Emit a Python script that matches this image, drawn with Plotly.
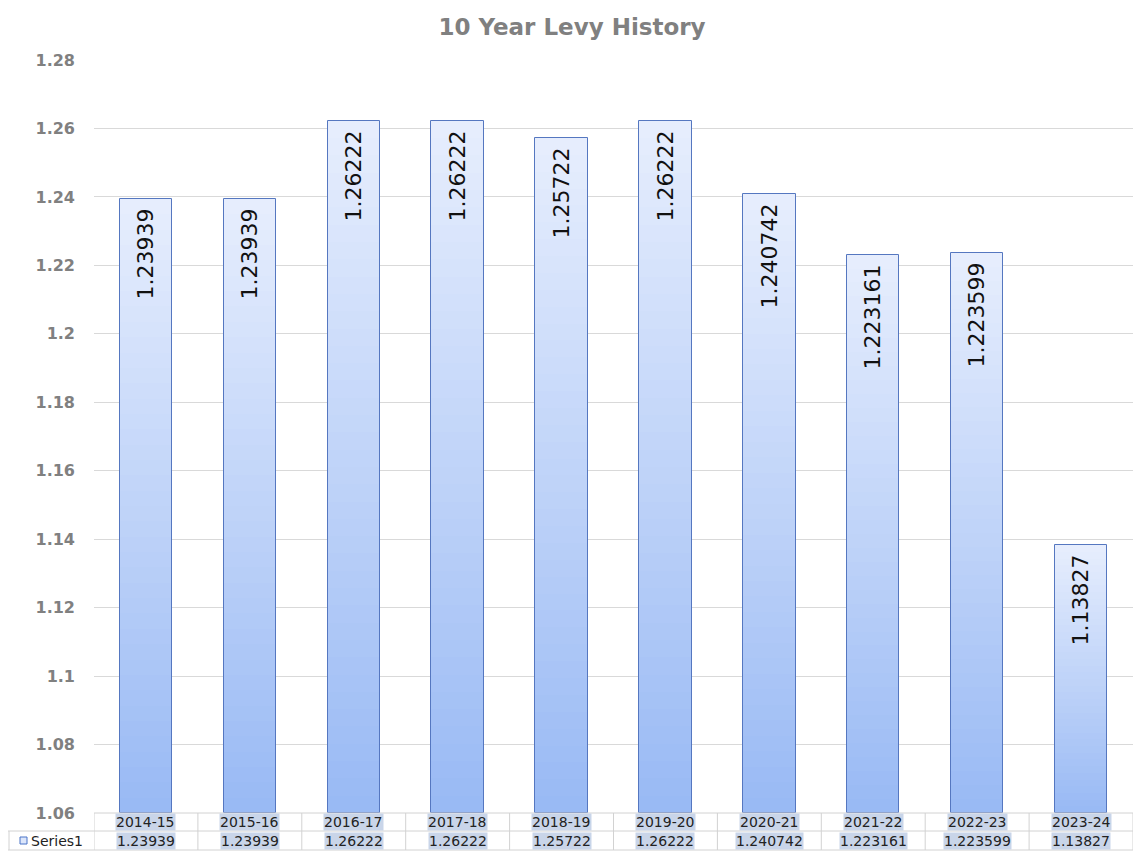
import plotly.graph_objects as go

# ---- data ----
categories = ["2014-15", "2015-16", "2016-17", "2017-18", "2018-19",
              "2019-20", "2020-21", "2021-22", "2022-23", "2023-24"]
levy = [1.23939, 1.23939, 1.26222, 1.26222, 1.25722,
        1.26222, 1.240742, 1.223161, 1.223599, 1.13827]
series_name = "Series1"
title_text = "10 Year Levy History"
y_tick_vals = [1.06, 1.08, 1.10, 1.12, 1.14, 1.16, 1.18, 1.20, 1.22, 1.24, 1.26, 1.28]
y_tick_text = ["1.06", "1.08", "1.1", "1.12", "1.14", "1.16", "1.18", "1.2",
               "1.22", "1.24", "1.26", "1.28"]
y_min, y_max = 1.06, 1.28

# ---- geometry (pixels, page coords minus the 8px body margin) ----
OFF = 8
W, H = 1141 - OFF, 858 - OFF
L, R, T, B = 94 - OFF, 1133 - OFF, 60 - OFF, 813 - OFF
ROW1_BOT, ROW2_BOT = 831 - OFF, 850 - OFF
SER_LEFT = 0


def pyp(p):
    return (B - p) / (B - T)


def pxp(p):
    return (p - L) / (R - L)


FONT = "DejaVu Sans"
BAR_W = 0.505
top_rgb = (231, 238, 253)
bot_rgb = (152, 185, 244)
N = 40

fig = go.Figure()

# gradient fill: successive shorter bars drawn over taller ones
heights = [v - y_min for v in levy]
for k in range(N):
    frac = (N - k) / N
    t = (k + 0.5) / N  # 0 top -> 1 bottom
    c = tuple(int(round(top_rgb[i] + (bot_rgb[i] - top_rgb[i]) * t)) for i in range(3))
    fig.add_trace(go.Bar(
        x=categories, y=[h * frac for h in heights], base=[y_min] * len(levy),
        width=BAR_W, marker=dict(color="rgb(%d,%d,%d)" % c, line=dict(width=0)),
        hoverinfo="skip", showlegend=False,
    ))

# outline + labels
fig.add_trace(go.Bar(
    x=categories, y=heights, base=[y_min] * len(levy), width=BAR_W,
    marker=dict(color="rgba(0,0,0,0)", line=dict(color="#5577c0", width=1)),
    text=[str(v) + "\u00a0" for v in levy],
    textposition="inside", insidetextanchor="end", textangle=-90,
    constraintext="none",
    insidetextfont=dict(family=FONT, size=22, color="#111111"),
    hoverinfo="skip", showlegend=False,
))

shapes = []
line_c = "#d2d2d2"
# horizontal table lines
shapes.append(dict(type="line", xref="paper", yref="paper", x0=0, x1=1,
                   y0=pyp(B), y1=pyp(B), line=dict(color=line_c, width=1)))
for yy in (ROW1_BOT, ROW2_BOT):
    shapes.append(dict(type="line", xref="paper", yref="paper", x0=pxp(SER_LEFT), x1=1,
                       y0=pyp(yy), y1=pyp(yy), line=dict(color=line_c, width=1)))
# vertical table lines
for i in range(len(categories) + 1):
    shapes.append(dict(type="line", xref="x", yref="paper", x0=i - 0.5, x1=i - 0.5,
                       y0=pyp(B), y1=pyp(ROW2_BOT), line=dict(color=line_c, width=1)))
shapes.append(dict(type="line", xref="paper", yref="paper", x0=pxp(SER_LEFT + 1),
                   x1=pxp(SER_LEFT + 1),
                   y0=pyp(ROW1_BOT), y1=pyp(ROW2_BOT), line=dict(color=line_c, width=1)))
# legend key
shapes.append(dict(type="rect", xref="paper", yref="paper", x0=pxp(20 - OFF), x1=pxp(27 - OFF),
                   y0=pyp(844 - OFF), y1=pyp(837 - OFF), fillcolor="#dce6fb",
                   line=dict(color="#4a74c8", width=1)))

annotations = []
hl = "#c9d5e9"
row1_c = (B + ROW1_BOT) / 2
row2_c = (ROW1_BOT + ROW2_BOT) / 2
for cat, v in zip(categories, levy):
    annotations.append(dict(x=cat, xref="x", y=pyp(row1_c), yref="paper", text=cat,
                            showarrow=False, yanchor="middle", bgcolor=hl, borderpad=0,
                            font=dict(family=FONT, size=14, color="#222222")))
    annotations.append(dict(x=cat, xref="x", y=pyp(row2_c), yref="paper", text=str(v),
                            showarrow=False, yanchor="middle", bgcolor=hl, borderpad=0,
                            font=dict(family=FONT, size=14, color="#222222")))
annotations.append(dict(x=pxp(29 - OFF), xref="paper", y=pyp(row2_c), yref="paper",
                        text=series_name, showarrow=False, xanchor="left", yanchor="middle",
                        font=dict(family=FONT, size=14, color="#222222")))

fig.update_layout(
    width=W, height=H,
    margin=dict(l=L, r=W - R, t=T, b=H - B, pad=0),
    paper_bgcolor="white", plot_bgcolor="white",
    barmode="overlay", bargap=0,
    title=dict(text=title_text, x=(572 - OFF) / W, xref="container", xanchor="center",
               y=1 - (27 - OFF) / H, yref="container", yanchor="middle",
               font=dict(family=FONT, size=23, color="#808080", weight="bold")),
    xaxis=dict(type="category", range=[-0.5, len(categories) - 0.5],
               showticklabels=False, showgrid=False, zeroline=False, showline=False,
               ticks=""),
    yaxis=dict(range=[y_min, y_max], tickvals=y_tick_vals, ticktext=y_tick_text,
               showgrid=True, gridcolor="#d9d9d9", gridwidth=1, zeroline=False,
               showline=False, ticks="", ticklabelstandoff=18,
               tickfont=dict(family=FONT, size=16, color="#808080", weight="bold")),
    shapes=shapes, annotations=annotations, showlegend=False,
)

fig.write_html("out.html")
